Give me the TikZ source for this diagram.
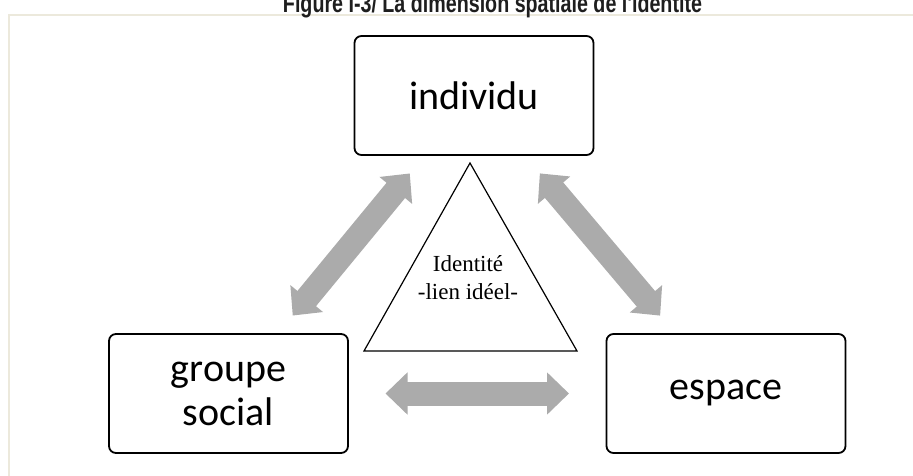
\documentclass[tikz,border=0pt]{standalone}
\usepackage{fontspec}
\setmainfont{Liberation Serif}
\newfontfamily\polefont{Carlito}
\newfontfamily\titlefont{Liberation Sans}
\usepackage{graphicx}
\usepackage{xcolor}
\usetikzlibrary{positioning,arrows.meta}
\definecolor{linkgray}{HTML}{ABABAB}
\definecolor{framebeige}{HTML}{ECE9DC}
\definecolor{titleink}{HTML}{1E1E1E}

\begin{document}
\begin{tikzpicture}[x=1pt, y=-1pt,
  pole/.style={draw, line width=1.8pt, rounded corners=7pt, minimum width=239pt,
    minimum height=119pt, inner sep=0pt, align=center,
    font=\polefont\fontsize{40}{44}\selectfont},
  link/.style={linkgray, line width=24pt,
    {Triangle[length=22pt,width=41pt]}-{Triangle[length=22pt,width=41pt]}}]
\useasboundingbox (0,0) rectangle (913,476);
\draw[framebeige, line width=1.5pt] (9,15) rectangle (940,500);

\node[anchor=base, text=titleink, inner sep=0pt] (title) at (492.5,12.5) {\resizebox{419pt}{\height}{\titlefont\bfseries\fontsize{26}{26}\selectfont Figure I-3/ La dimension spatiale de l'identité}};

\node[pole] (individu) at (474,95.5) {individu};
\node[pole] (groupe) at (228.5,393.5) {groupe\\social};
\node[pole] (espace) at (726,393.5) {espace};

% triangle de l'identite
\coordinate (apex) at (470,163);
\coordinate (baseL) at (364,351);
\coordinate (baseR) at (577,351);
\draw[line width=1.2pt, line join=miter] (apex) -- (baseL) -- (baseR) -- cycle;
\node[align=center, font=\fontsize{23}{28}\selectfont] (identite) at (468,278) {Identité\\-lien idéel-};

\draw[link, shorten <=101pt, shorten >=101pt] (groupe.center) -- (individu.center);
\draw[link, shorten <=102pt, shorten >=102pt] (espace.center) -- (individu.center);
\draw[link, shorten <=157pt, shorten >=157pt] (groupe.center) -- (espace.center);

\end{tikzpicture}
\end{document}
